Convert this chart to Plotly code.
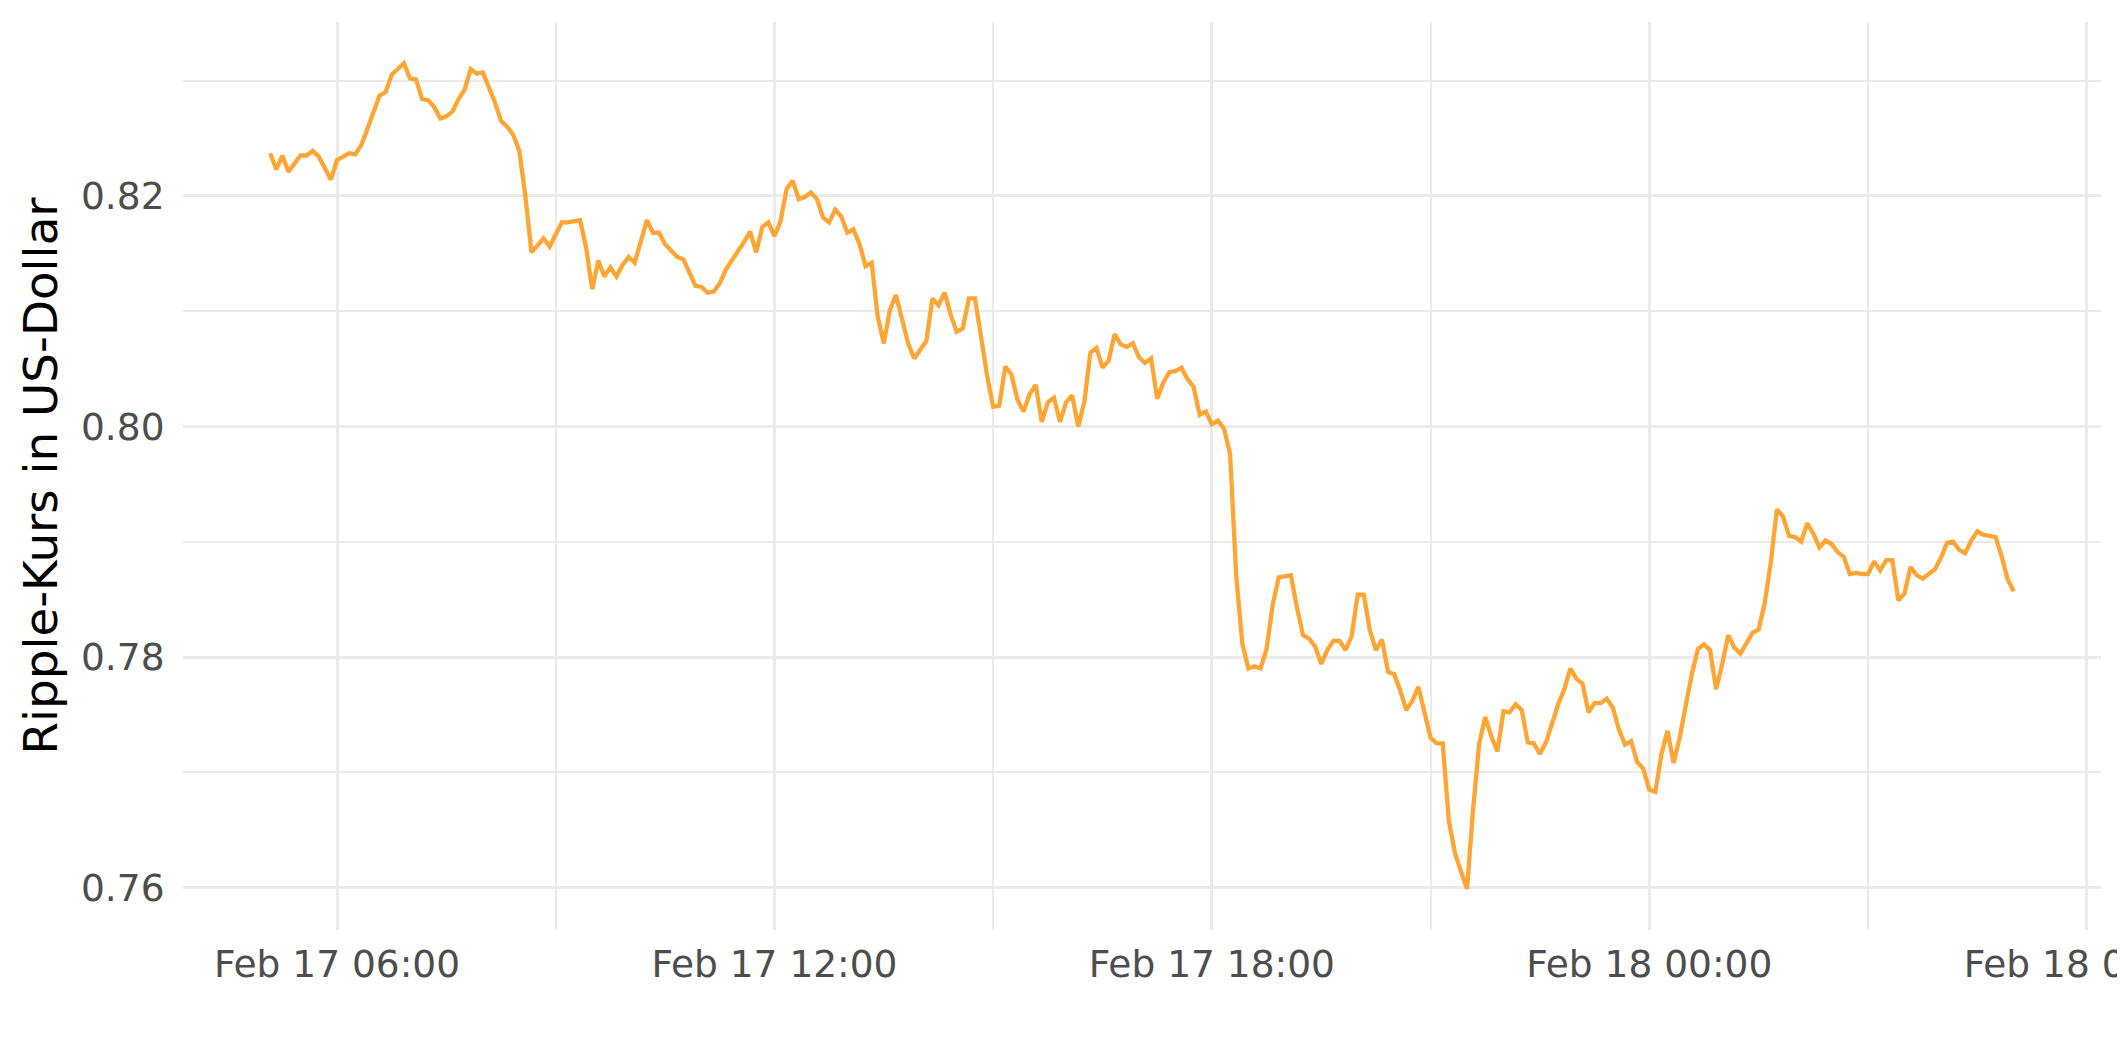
import plotly.graph_objects as go

# Timestamps (5-minute observations), Feb 17 05:05 -> Feb 18 05:00
times = [
    "2018-02-17 05:05", "2018-02-17 05:10", "2018-02-17 05:15", "2018-02-17 05:20", "2018-02-17 05:25", "2018-02-17 05:30",
    "2018-02-17 05:35", "2018-02-17 05:40", "2018-02-17 05:45", "2018-02-17 05:50", "2018-02-17 05:55",
    "2018-02-17 06:00", "2018-02-17 06:05", "2018-02-17 06:10", "2018-02-17 06:15", "2018-02-17 06:20", "2018-02-17 06:25",
    "2018-02-17 06:30", "2018-02-17 06:35", "2018-02-17 06:40", "2018-02-17 06:45", "2018-02-17 06:50", "2018-02-17 06:55",
    "2018-02-17 07:00", "2018-02-17 07:05", "2018-02-17 07:10", "2018-02-17 07:15", "2018-02-17 07:20", "2018-02-17 07:25",
    "2018-02-17 07:30", "2018-02-17 07:35", "2018-02-17 07:40", "2018-02-17 07:45", "2018-02-17 07:50", "2018-02-17 07:55",
    "2018-02-17 08:00", "2018-02-17 08:05", "2018-02-17 08:10", "2018-02-17 08:15", "2018-02-17 08:20", "2018-02-17 08:25",
    "2018-02-17 08:30", "2018-02-17 08:35", "2018-02-17 08:40", "2018-02-17 08:45", "2018-02-17 08:50", "2018-02-17 08:55",
    "2018-02-17 09:00", "2018-02-17 09:05", "2018-02-17 09:10", "2018-02-17 09:15", "2018-02-17 09:20", "2018-02-17 09:25",
    "2018-02-17 09:30", "2018-02-17 09:35", "2018-02-17 09:40", "2018-02-17 09:45", "2018-02-17 09:50", "2018-02-17 09:55",
    "2018-02-17 10:00", "2018-02-17 10:05", "2018-02-17 10:10", "2018-02-17 10:15", "2018-02-17 10:20", "2018-02-17 10:25",
    "2018-02-17 10:30", "2018-02-17 10:35", "2018-02-17 10:40", "2018-02-17 10:45", "2018-02-17 10:50", "2018-02-17 10:55",
    "2018-02-17 11:00", "2018-02-17 11:05", "2018-02-17 11:10", "2018-02-17 11:15", "2018-02-17 11:20", "2018-02-17 11:25",
    "2018-02-17 11:30", "2018-02-17 11:35", "2018-02-17 11:40", "2018-02-17 11:45", "2018-02-17 11:50", "2018-02-17 11:55",
    "2018-02-17 12:00", "2018-02-17 12:05", "2018-02-17 12:10", "2018-02-17 12:15", "2018-02-17 12:20", "2018-02-17 12:25",
    "2018-02-17 12:30", "2018-02-17 12:35", "2018-02-17 12:40", "2018-02-17 12:45", "2018-02-17 12:50", "2018-02-17 12:55",
    "2018-02-17 13:00", "2018-02-17 13:05", "2018-02-17 13:10", "2018-02-17 13:15", "2018-02-17 13:20", "2018-02-17 13:25",
    "2018-02-17 13:30", "2018-02-17 13:35", "2018-02-17 13:40", "2018-02-17 13:45", "2018-02-17 13:50", "2018-02-17 13:55",
    "2018-02-17 14:00", "2018-02-17 14:05", "2018-02-17 14:10", "2018-02-17 14:15", "2018-02-17 14:20", "2018-02-17 14:25",
    "2018-02-17 14:30", "2018-02-17 14:35", "2018-02-17 14:40", "2018-02-17 14:45", "2018-02-17 14:50", "2018-02-17 14:55",
    "2018-02-17 15:00", "2018-02-17 15:05", "2018-02-17 15:10", "2018-02-17 15:15", "2018-02-17 15:20", "2018-02-17 15:25",
    "2018-02-17 15:30", "2018-02-17 15:35", "2018-02-17 15:40", "2018-02-17 15:45", "2018-02-17 15:50", "2018-02-17 15:55",
    "2018-02-17 16:00", "2018-02-17 16:05", "2018-02-17 16:10", "2018-02-17 16:15", "2018-02-17 16:20", "2018-02-17 16:25",
    "2018-02-17 16:30", "2018-02-17 16:35", "2018-02-17 16:40", "2018-02-17 16:45", "2018-02-17 16:50", "2018-02-17 16:55",
    "2018-02-17 17:00", "2018-02-17 17:05", "2018-02-17 17:10", "2018-02-17 17:15", "2018-02-17 17:20", "2018-02-17 17:25",
    "2018-02-17 17:30", "2018-02-17 17:35", "2018-02-17 17:40", "2018-02-17 17:45", "2018-02-17 17:50", "2018-02-17 17:55",
    "2018-02-17 18:00", "2018-02-17 18:05", "2018-02-17 18:10", "2018-02-17 18:15", "2018-02-17 18:20", "2018-02-17 18:25",
    "2018-02-17 18:30", "2018-02-17 18:35", "2018-02-17 18:40", "2018-02-17 18:45", "2018-02-17 18:50", "2018-02-17 18:55",
    "2018-02-17 19:00", "2018-02-17 19:05", "2018-02-17 19:10", "2018-02-17 19:15", "2018-02-17 19:20", "2018-02-17 19:25",
    "2018-02-17 19:30", "2018-02-17 19:35", "2018-02-17 19:40", "2018-02-17 19:45", "2018-02-17 19:50", "2018-02-17 19:55",
    "2018-02-17 20:00", "2018-02-17 20:05", "2018-02-17 20:10", "2018-02-17 20:15", "2018-02-17 20:20", "2018-02-17 20:25",
    "2018-02-17 20:30", "2018-02-17 20:35", "2018-02-17 20:40", "2018-02-17 20:45", "2018-02-17 20:50", "2018-02-17 20:55",
    "2018-02-17 21:00", "2018-02-17 21:05", "2018-02-17 21:10", "2018-02-17 21:15", "2018-02-17 21:20", "2018-02-17 21:25",
    "2018-02-17 21:30", "2018-02-17 21:35", "2018-02-17 21:40", "2018-02-17 21:45", "2018-02-17 21:50", "2018-02-17 21:55",
    "2018-02-17 22:00", "2018-02-17 22:05", "2018-02-17 22:10", "2018-02-17 22:15", "2018-02-17 22:20", "2018-02-17 22:25",
    "2018-02-17 22:30", "2018-02-17 22:35", "2018-02-17 22:40", "2018-02-17 22:45", "2018-02-17 22:50", "2018-02-17 22:55",
    "2018-02-17 23:00", "2018-02-17 23:05", "2018-02-17 23:10", "2018-02-17 23:15", "2018-02-17 23:20", "2018-02-17 23:25",
    "2018-02-17 23:30", "2018-02-17 23:35", "2018-02-17 23:40", "2018-02-17 23:45", "2018-02-17 23:50", "2018-02-17 23:55",
    "2018-02-18 00:00", "2018-02-18 00:05", "2018-02-18 00:10", "2018-02-18 00:15", "2018-02-18 00:20", "2018-02-18 00:25",
    "2018-02-18 00:30", "2018-02-18 00:35", "2018-02-18 00:40", "2018-02-18 00:45", "2018-02-18 00:50", "2018-02-18 00:55",
    "2018-02-18 01:00", "2018-02-18 01:05", "2018-02-18 01:10", "2018-02-18 01:15", "2018-02-18 01:20", "2018-02-18 01:25",
    "2018-02-18 01:30", "2018-02-18 01:35", "2018-02-18 01:40", "2018-02-18 01:45", "2018-02-18 01:50", "2018-02-18 01:55",
    "2018-02-18 02:00", "2018-02-18 02:05", "2018-02-18 02:10", "2018-02-18 02:15", "2018-02-18 02:20", "2018-02-18 02:25",
    "2018-02-18 02:30", "2018-02-18 02:35", "2018-02-18 02:40", "2018-02-18 02:45", "2018-02-18 02:50", "2018-02-18 02:55",
    "2018-02-18 03:00", "2018-02-18 03:05", "2018-02-18 03:10", "2018-02-18 03:15", "2018-02-18 03:20", "2018-02-18 03:25",
    "2018-02-18 03:30", "2018-02-18 03:35", "2018-02-18 03:40", "2018-02-18 03:45", "2018-02-18 03:50", "2018-02-18 03:55",
    "2018-02-18 04:00", "2018-02-18 04:05", "2018-02-18 04:10", "2018-02-18 04:15", "2018-02-18 04:20", "2018-02-18 04:25",
    "2018-02-18 04:30", "2018-02-18 04:35", "2018-02-18 04:40", "2018-02-18 04:45", "2018-02-18 04:50", "2018-02-18 04:55",
    "2018-02-18 05:00",
]

# Ripple price in USD
prices = [
    0.8237, 0.8223, 0.8235, 0.8221, 0.8228, 0.8235, 0.8235, 0.8239, 0.8234, 0.8223, 0.8214,
    0.8231, 0.8234, 0.8237, 0.8236, 0.8244, 0.8258, 0.8273, 0.8287, 0.8290, 0.8305, 0.8310, 0.8315,
    0.8302, 0.8301, 0.8284, 0.8283, 0.8277, 0.8267, 0.8269, 0.8273, 0.8284, 0.8292, 0.8310, 0.8306,
    0.8307, 0.8295, 0.8281, 0.8265, 0.8260, 0.8253, 0.8239, 0.8200, 0.8151, 0.8157, 0.8163, 0.8156,
    0.8166, 0.8177, 0.8177, 0.8178, 0.8179, 0.8155, 0.8119, 0.8144, 0.8130, 0.8138, 0.8130, 0.8140,
    0.8147, 0.8142, 0.8162, 0.8179, 0.8168, 0.8168, 0.8158, 0.8153, 0.8147, 0.8145, 0.8133, 0.8122,
    0.8121, 0.8116, 0.8117, 0.8124, 0.8136, 0.8144, 0.8151, 0.8160, 0.8169, 0.8151, 0.8173, 0.8177,
    0.8165, 0.8178, 0.8206, 0.8213, 0.8197, 0.8199, 0.8203, 0.8197, 0.8181, 0.8177, 0.8188, 0.8182,
    0.8168, 0.8171, 0.8158, 0.8139, 0.8142, 0.8095, 0.8072, 0.8101, 0.8114, 0.8092, 0.8072, 0.8059,
    0.8067, 0.8074, 0.8111, 0.8105, 0.8116, 0.8097, 0.8082, 0.8085, 0.8111, 0.8111, 0.8078, 0.8044,
    0.8017, 0.8018, 0.8052, 0.8045, 0.8023, 0.8013, 0.8028, 0.8036, 0.8004, 0.8021, 0.8025, 0.8004,
    0.8021, 0.8027, 0.8000, 0.8021, 0.8064, 0.8068, 0.8051, 0.8057, 0.8080, 0.8071, 0.8069, 0.8072,
    0.8060, 0.8055, 0.8059, 0.8024, 0.8038, 0.8047, 0.8048, 0.8051, 0.8041, 0.8034, 0.8010, 0.8013,
    0.8002, 0.8005, 0.7998, 0.7976, 0.7871, 0.7812, 0.7790, 0.7792, 0.7790, 0.7807, 0.7845, 0.7869,
    0.7870, 0.7871, 0.7843, 0.7819, 0.7816, 0.7809, 0.7794, 0.7806, 0.7814, 0.7814, 0.7806, 0.7818,
    0.7854, 0.7854, 0.7823, 0.7806, 0.7815, 0.7787, 0.7785, 0.7771, 0.7754, 0.7762, 0.7774, 0.7751,
    0.7730, 0.7725, 0.7725, 0.7658, 0.7630, 0.7614, 0.7599, 0.7668, 0.7725, 0.7748, 0.7731, 0.7718,
    0.7753, 0.7752, 0.7759, 0.7754, 0.7726, 0.7725, 0.7716, 0.7726, 0.7743, 0.7759, 0.7772, 0.7790,
    0.7781, 0.7777, 0.7752, 0.7760, 0.7760, 0.7764, 0.7756, 0.7737, 0.7724, 0.7727, 0.7709, 0.7703,
    0.7685, 0.7683, 0.7716, 0.7736, 0.7708, 0.7730, 0.7758, 0.7785, 0.7807, 0.7811, 0.7806, 0.7772,
    0.7794, 0.7819, 0.7808, 0.7803, 0.7812, 0.7821, 0.7824, 0.7847, 0.7882, 0.7928, 0.7922, 0.7905,
    0.7904, 0.7900, 0.7916, 0.7907, 0.7895, 0.7901, 0.7898, 0.7891, 0.7887, 0.7872, 0.7873, 0.7872,
    0.7872, 0.7883, 0.7875, 0.7884, 0.7884, 0.7849, 0.7855, 0.7878, 0.7871, 0.7868, 0.7872, 0.7876,
    0.7886, 0.7899, 0.7900, 0.7893, 0.7890, 0.7901, 0.7909, 0.7906, 0.7905, 0.7904, 0.7887, 0.7867,
    0.7857,
]

y_title = "Ripple-Kurs in US-Dollar"
x_range = ["2018-02-17 03:53:15", "2018-02-18 06:11:45"]
y_range = [0.75632, 0.83508]

GRID = "#EBEBEB"
HOUR_MS = 3600 * 1000

fig = go.Figure(
    go.Scatter(
        x=times,
        y=prices,
        mode="lines",
        line=dict(color="#FFA533", width=4.3),
        hoverinfo="x+y",
    )
)

fig.update_layout(
    width=2125,
    height=1062,
    margin=dict(l=175, r=32, t=14, b=140, autoexpand=False),
    paper_bgcolor="white",
    plot_bgcolor="white",
    showlegend=False,
    font=dict(family="DejaVu Sans", color="#4D4D4D", size=37.5),
)

fig.update_xaxes(
    type="date",
    range=x_range,
    automargin=False,
    tick0="2018-02-17 00:00",
    dtick=6 * HOUR_MS,
    tickformat="%b %d %H:%M",
    showgrid=True,
    gridcolor=GRID,
    gridwidth=3,
    minor=dict(tick0="2018-02-17 00:00", dtick=3 * HOUR_MS, showgrid=True,
               gridcolor=GRID, gridwidth=1.6),
    zeroline=False,
    showline=False,
    ticks="outside",
    ticklen=1,
    tickcolor="rgba(0,0,0,0)",
    ticklabeloverflow="allow",
    tickfont=dict(family="DejaVu Sans", size=37.5, color="#4D4D4D"),
)

fig.update_yaxes(
    range=y_range,
    automargin=False,
    tick0=0.76,
    dtick=0.02,
    tickformat=".2f",
    showgrid=True,
    gridcolor=GRID,
    gridwidth=3,
    minor=dict(tick0=0.76, dtick=0.01, showgrid=True, gridcolor=GRID, gridwidth=1.6),
    zeroline=False,
    showline=False,
    ticks="outside",
    ticklen=10,
    tickcolor="rgba(0,0,0,0)",
    tickfont=dict(family="DejaVu Sans", size=37.5, color="#4D4D4D"),
    title=dict(text=y_title, font=dict(family="DejaVu Sans", size=46.8, color="black"), standoff=8),
)

fig.write_html("out.html")
